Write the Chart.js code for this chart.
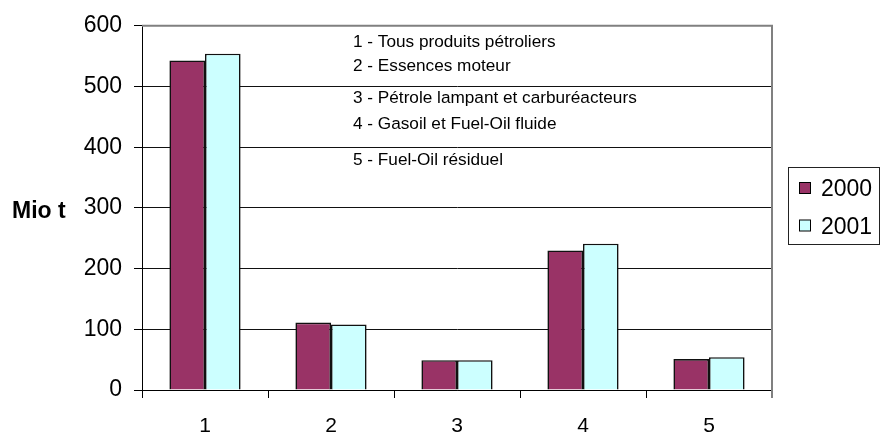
<!DOCTYPE html>
<html lang="fr">
<head>
    <meta charset="UTF-8">
    <title>Produits pétroliers</title>
    <script src="https://cdn.jsdelivr.net/npm/chart.js"></script>
    <style>
        html, body { margin: 0; padding: 0; background: #fff; }
        #graphique { display: block; }
    </style>
</head>
<body>
    <canvas id="graphique" width="883" height="432"></canvas>

    <script>
        // Données (Mio t)
        const categories = ['1', '2', '3', '4', '5'];
        const annees = ['2000', '2001'];
        const valeurs2000 = [543, 111, 49, 230, 51];
        const valeurs2001 = [554, 108, 49, 241, 54];
        const graduationsY = [0, 100, 200, 300, 400, 500, 600];
        const titreY = 'Mio t';
        const notes = [
            '1 - Tous produits pétroliers',
            '2 - Essences moteur',
            '3 - Pétrole lampant et carburéacteurs',
            '4 - Gasoil et Fuel-Oil fluide',
            '5 - Fuel-Oil résiduel'
        ];

        const police = "'Liberation Sans', Arial, sans-serif";

        // cadre gris en haut et à droite, titre de l'axe, notes et légende encadrée
        const decor = {
            id: 'decor',
            afterDraw(chart) {
                const ctx = chart.ctx;
                const a = chart.chartArea;
                ctx.save();

                ctx.strokeStyle = '#808080';
                ctx.lineWidth = 2;
                ctx.beginPath();
                ctx.moveTo(a.left, a.top);
                ctx.lineTo(a.right, a.top);
                ctx.lineTo(a.right, a.bottom + 8);
                ctx.stroke();

                ctx.fillStyle = '#000';
                ctx.font = 'bold 23px ' + police;
                ctx.textAlign = 'left';
                ctx.textBaseline = 'alphabetic';
                ctx.fillText(titreY, 12, 218);

                ctx.font = '17.2px ' + police;
                const lignes = [47, 71, 103, 129, 165];
                notes.forEach((t, i) => ctx.fillText(t, 353, lignes[i]));

                // légende
                ctx.strokeStyle = '#222';
                ctx.lineWidth = 1;
                ctx.strokeRect(788.5, 167.5, 91, 77);
                ctx.font = '23px ' + police;
                ctx.textBaseline = 'middle';
                chart.data.datasets.forEach((ds, i) => {
                    const y = 182 + i * 37.5;
                    ctx.fillStyle = ds.backgroundColor;
                    ctx.fillRect(799.5, y + 0.5, 11, 11);
                    ctx.strokeStyle = '#000';
                    ctx.strokeRect(799.5, y + 0.5, 11, 11);
                    ctx.fillStyle = '#000';
                    ctx.fillText(ds.label, 821, y + 8);
                });
                ctx.restore();
            }
        };

        const ctx = document.getElementById('graphique').getContext('2d');

        const graphique = new Chart(ctx, {
            type: 'bar',
            data: {
                labels: categories,
                datasets: [{
                    label: annees[0],
                    data: valeurs2000,
                    backgroundColor: '#993366',
                    borderColor: '#111',
                    borderWidth: 1.6
                }, {
                    label: annees[1],
                    data: valeurs2001,
                    backgroundColor: '#CCFFFF',
                    borderColor: '#111',
                    borderWidth: 1.6
                }]
            },
            options: {
                responsive: false,
                animation: false,
                layout: { padding: { left: 0, right: 111, top: 24, bottom: 0 } },
                datasets: {
                    bar: { categoryPercentage: 0.565, barPercentage: 1 }
                },
                plugins: {
                    legend: { display: false },
                    tooltip: { enabled: false }
                },
                scales: {
                    x: {
                        grid: {
                            drawOnChartArea: false,
                            drawTicks: true,
                            tickLength: 8,
                            tickColor: '#000'
                        },
                        border: { color: '#000', width: 1 },
                        ticks: {
                            color: '#000',
                            padding: 16,
                            font: { family: police, size: 21 }
                        },
                        afterFit(s) { s.height = 42; }
                    },
                    y: {
                        min: 0,
                        max: 600,
                        afterBuildTicks(s) { s.ticks = graduationsY.map(v => ({ value: v })); },
                        grid: {
                            color: '#111',
                            lineWidth: 1,
                            tickLength: 8,
                            tickColor: '#000'
                        },
                        border: { color: '#000', width: 1 },
                        ticks: {
                            color: '#000',
                            padding: 12,
                            font: { family: police, size: 23 }
                        },
                        afterFit(s) { s.width = 142; }
                    }
                }
            },
            plugins: [decor]
        });
    </script>
</body>
</html>
